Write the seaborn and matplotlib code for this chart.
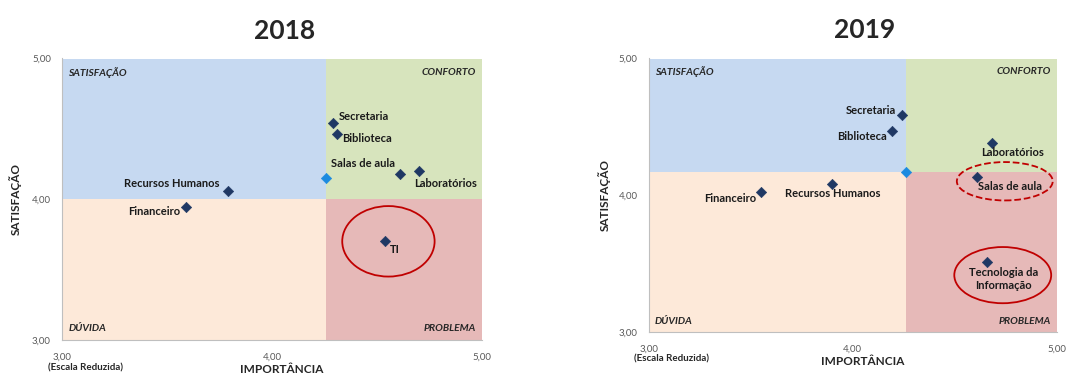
import matplotlib
matplotlib.use("Agg")
import matplotlib.pyplot as plt
import seaborn as sns
import pandas as pd
from matplotlib.patches import Ellipse

# Dados (Importância x Satisfação)
itens_2018 = ["Secretaria", "Biblioteca", "Salas de aula", "Laboratórios",
              "Recursos Humanos", "Financeiro", "TI"]
imp_2018 = [4.29, 4.31, 4.61, 4.70, 3.79, 3.59, 4.54]
sat_2018 = [4.54, 4.46, 4.18, 4.20, 4.06, 3.94, 3.70]

itens_2019 = ["Secretaria", "Biblioteca", "Laboratórios", "Salas de aula",
              "Tecnologia da\nInformação", "Recursos Humanos", "Financeiro"]
imp_2019 = [4.24, 4.19, 4.68, 4.61, 4.66, 3.90, 3.55]
sat_2019 = [4.58, 4.47, 4.38, 4.13, 3.51, 4.08, 4.02]

anos = ["2018", "2019"]
media_imp = [4.26, 4.26]
media_sat = [4.15, 4.17]
divisa_sat = [4.00, 4.17]

# deslocamento dos rótulos (pixels) e alinhamento
desloc_2018 = [(6, 6, "left"), (5, -4, "left"), (-5, 10, "right"), (-5, -13, "left"),
               (-8, 7, "right"), (-6, -4, "right"), (5, -8, "left")]
desloc_2019 = [(-6, 5, "right"), (-5, -6, "right"), (-10, -10, "left"), (1, -9, "left"),
               (16, -17, "center"), (0, -10, "center"), (-5, -6, "right")]

# elipses de destaque: (x, y, largura, altura, estilo)
elipses_2018 = [(4.555, 3.70, 0.44, 0.50, "-")]
elipses_2019 = [(4.745, 4.10, 0.47, 0.28, "--"), (4.735, 3.415, 0.475, 0.41, "-")]

cor_sat = "#C6D9F1"
cor_conf = "#D7E4BD"
cor_duv = "#FDE9D9"
cor_prob = "#E6B9B8"

sns.set_style("white")
plt.rcParams['font.family'] = ['Lato', 'DejaVu Sans']

fig = plt.figure(figsize=(10.85, 3.76), dpi=100)
ax1 = fig.add_axes([0.0571, 0.0957, 0.387, 0.75])
ax2 = fig.add_axes([0.598, 0.117, 0.376, 0.729])

dados = [(ax1, itens_2018, imp_2018, sat_2018, desloc_2018, elipses_2018),
         (ax2, itens_2019, imp_2019, sat_2019, desloc_2019, elipses_2019)]

for i, (ax, itens, imp, sat, desloc, elipses) in enumerate(dados):
    xm, ym = media_imp[i], divisa_sat[i]
    ax.set_xlim(3, 5)
    ax.set_ylim(3, 5)
    # quadrantes
    ax.fill_between([3, xm], ym, 4.99, color=cor_sat, lw=0, zorder=0)
    ax.fill_between([xm, 5], ym, 4.99, color=cor_conf, lw=0, zorder=0)
    ax.fill_between([3, xm], 3, ym, color=cor_duv, lw=0, zorder=0)
    ax.fill_between([xm, 5], 3, ym, color=cor_prob, lw=0, zorder=0)

    df = pd.DataFrame({"imp": imp, "sat": sat, "item": itens})
    sns.scatterplot(data=df, x="imp", y="sat", marker="D", s=28, color="#1F3864",
                    edgecolor="#1F3864", ax=ax, zorder=3)
    sns.scatterplot(x=[media_imp[i]], y=[media_sat[i]], marker="D", s=28,
                    color="#1C8AE0", edgecolor="#1C8AE0", ax=ax, zorder=3)

    for nome, x, y, (dx, dy, ha) in zip(itens, imp, sat, desloc):
        ax.annotate(nome, (x, y), xytext=(dx, dy), textcoords="offset pixels",
                    ha=ha, va="center", fontsize=8, fontweight="bold",
                    color="#1a1a1a", multialignment="center", zorder=4)

    for (ex, ey, ew, eh, ls) in elipses:
        ax.add_patch(Ellipse((ex, ey), ew, eh, fill=False, edgecolor="#C00000",
                             lw=1.3, ls=ls, zorder=4))

    estilo = dict(fontsize=7.4, fontweight="bold", fontstyle="italic", color="#262626",
                  transform=ax.transAxes, va="center")
    ax.text(0.015, 0.95, "SATISFAÇÃO", ha="left", **estilo)
    ax.text(0.985, 0.95, "CONFORTO", ha="right", **estilo)
    ax.text(0.015, 0.04, "DÚVIDA", ha="left", **estilo)
    ax.text(0.985, 0.04, "PROBLEMA", ha="right", **estilo)

    ax.set_xticks([3, 4, 5])
    ax.set_yticks([3, 4, 5])
    ax.set_xticklabels(["3,00", "4,00", "5,00"])
    ax.set_yticklabels(["3,00", "4,00", "5,00"])
    ax.tick_params(axis="both", labelsize=7, colors="#7f7f7f", length=4,
                   width=0.8, direction="out", labelcolor="#595959")
    ax.tick_params(axis="x", pad=5)
    ax.tick_params(axis="y", pad=4)
    for lado in ["top", "right"]:
        ax.spines[lado].set_visible(False)
    for lado in ["left", "bottom"]:
        ax.spines[lado].set_color("#bfbfbf")
        ax.spines[lado].set_linewidth(0.8)

    ax.set_xlabel("IMPORTÂNCIA", fontsize=8.5, fontweight="bold", color="#262626")
    ax.xaxis.set_label_coords(0.523, -0.106)
    ax.xaxis.label.set_va("center")
    ax.set_ylabel("SATISFAÇÃO", fontsize=8.5, fontweight="bold", color="#262626")
    ax.yaxis.set_label_coords(-0.11, 0.5)
    ax.yaxis.label.set_va("center")
    ax.text(3.11, -0.098, "(Escala Reduzida)", transform=ax.get_xaxis_transform(),
            ha="center", va="center", fontsize=7, fontweight="bold", color="#262626")
    ax.set_title(anos[i], fontsize=19, fontweight="bold", pad=14, x=0.53)

fig.savefig("out.png", dpi=100, facecolor="white")
